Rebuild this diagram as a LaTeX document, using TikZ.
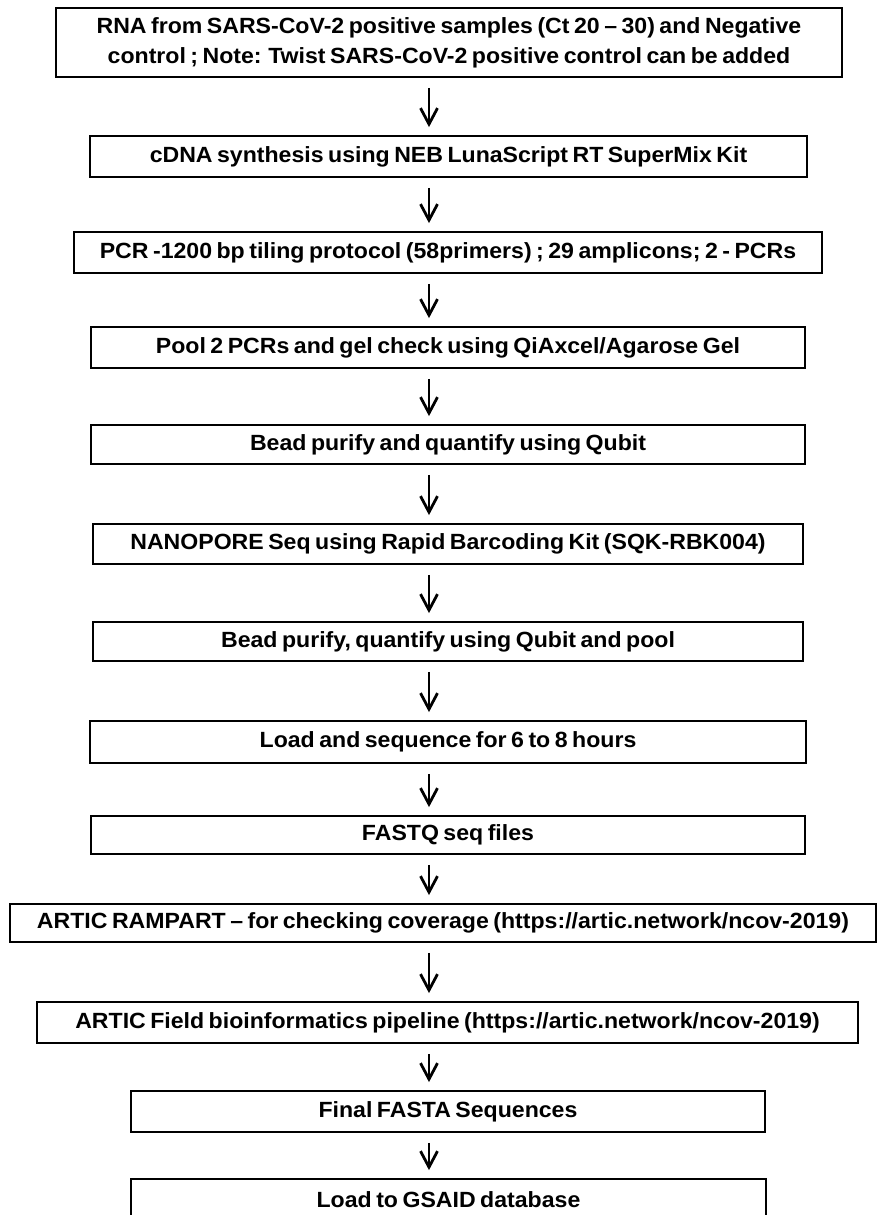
\documentclass[tikz,border=0pt]{standalone}
\usepackage{fontspec}
\newfontfamily\boxfont{Liberation Sans}[FakeStretch=1.05,WordSpace=0.7]
\usetikzlibrary{arrows.meta}

\begin{document}
\begin{tikzpicture}[x=0.5pt,y=-0.5pt,
    >={Straight Barb[length=8pt,width=8.5pt,line width=1.4pt]},
    box/.style={draw,line width=0.9pt,inner sep=0pt,align=center,
      font=\boxfont\bfseries\fontsize{11}{15}\selectfont},
    arr/.style={->,line width=1.4pt,shorten <=5pt,shorten >=4pt}]
  \useasboundingbox (0,0) rectangle (879,1215);
  \clip (0,0) rectangle (879,1215);
  % steps, top to bottom
  \node[box,minimum width=393pt,minimum height=34.5pt] (b1) at (449,42.5)
    {RNA from SARS-CoV-2 positive samples (Ct 20 – 30) and Negative\\
     control ; Note:  Twist SARS-CoV-2 positive control can be added};
  \node[box,minimum width=358.5pt,minimum height=20.5pt] (b2) at (448.5,156.5)
    {cDNA synthesis using NEB  LunaScript RT SuperMix Kit};
  \node[box,minimum width=374pt,minimum height=20.5pt] (b3) at (448,252.5)
    {PCR -1200 bp tiling protocol (58primers) ; 29 amplicons; 2 - PCRs};
  \node[box,minimum width=357pt,minimum height=20.5pt] (b4) at (448,347.5)
    {Pool 2 PCRs  and gel check using QiAxcel/Agarose Gel};
  \node[box,minimum width=357pt,minimum height=19.5pt] (b5) at (448,444.5)
    {Bead purify and quantify using Qubit};
  \node[box,minimum width=355pt,minimum height=20pt] (b6) at (448,544)
    {NANOPORE Seq using Rapid Barcoding Kit (SQK-RBK004)};
  \node[box,minimum width=355pt,minimum height=19.5pt] (b7) at (448,641.5)
    {Bead purify, quantify using Qubit and pool};
  \node[box,minimum width=358pt,minimum height=21pt] (b8) at (448,742)
    {Load and sequence for 6 to 8 hours};
  \node[box,minimum width=357pt,minimum height=19pt] (b9) at (448,835)
    {FASTQ seq files};
  \node[box,minimum width=433pt,minimum height=19pt] (b10) at (443,923)
    {ARTIC RAMPART – for checking coverage (https://artic.network/ncov-2019)};
  \node[box,minimum width=410.5pt,minimum height=20.5pt] (b11) at (447.5,1022.5)
    {ARTIC Field bioinformatics pipeline (https://artic.network/ncov-2019)};
  \node[box,minimum width=317pt,minimum height=20.5pt] (b12) at (448,1111.5)
    {Final FASTA Sequences};
  \node[box,minimum width=317.5pt,minimum height=21pt] (b13) at (448.5,1200)
    {Load to GSAID database};
  % arrows run left of the centre line
  \coordinate (ax) at (429,0);
  \foreach \a/\b in {b1/b2,b2/b3,b3/b4,b4/b5,b5/b6,b6/b7,b7/b8,b8/b9,
                     b9/b10,b10/b11,b11/b12,b12/b13}
    \draw[arr] (\a.south -| ax) -- (\b.north -| ax);
\end{tikzpicture}
\end{document}
